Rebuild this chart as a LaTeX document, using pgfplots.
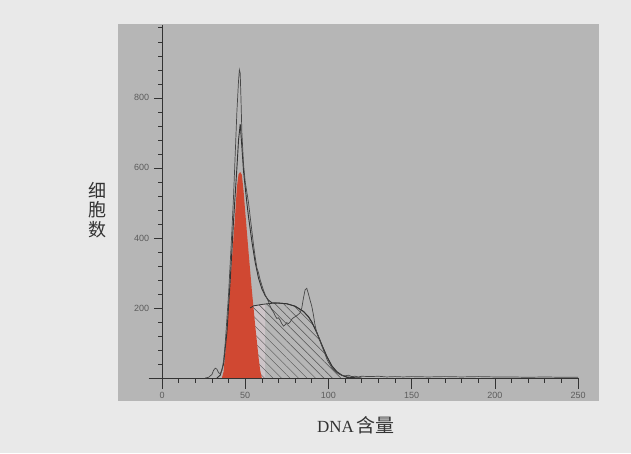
\documentclass[border=0pt]{standalone}
\usepackage{pgfplots}
\pgfplotsset{compat=1.18}
\usepackage{fontspec}
\setmainfont{Liberation Serif}
\setsansfont{Liberation Sans}
\newfontfamily\cjk{Noto Sans CJK SC}
\usetikzlibrary{patterns.meta}
\definecolor{outerbg}{HTML}{E9E9E9}
\definecolor{panel}{HTML}{B6B6B6}
\definecolor{gred}{RGB}{208,72,50}
\definecolor{ink}{HTML}{333333}
\definecolor{strip}{HTML}{CDC4C8}
\begin{document}
\begin{tikzpicture}[x=1pt,y=1pt]
\fill[outerbg] (0,0) rectangle (631,453);
\fill[panel] (118,52) rectangle (599,429);
\begin{axis}[
  at={(148.7pt,68pt)}, anchor=south west,
  scale only axis, width=429.3pt, height=360pt,
  xmin=-8, xmax=250, ymin=-20, ymax=1008,
  axis lines=middle,
  axis line style={-, draw=ink, line width=0.7pt},
  tick align=outside,
  xtick={0,50,...,250}, minor xtick={10,20,...,240},
  ytick={200,400,600,800}, minor ytick={40,80,...,1000},
  xtick style={draw=ink, line width=0.6pt, /pgfplots/major tick length=11pt, /pgfplots/minor tick length=5pt},
  ytick style={draw=ink, line width=0.6pt, /pgfplots/major tick length=8pt, /pgfplots/minor tick length=4pt},
  hide obscured x ticks=false,
  /pgf/number format/assume math mode=true,
  ticklabel style={font=\sffamily\fontsize{9}{10}\selectfont, text=ink!80},
  xticklabel style={yshift=-6pt},
  yticklabel style={xshift=-5pt},
  clip=false,
]
% light strip next to G1 peak
\addplot[draw=none, fill=strip] coordinates {(52,0)(52,200)(56,206)(60,209)(62,210)(62,0)} \closedcycle;
% S phase hatched
\addplot[draw=none, pattern={Lines[angle=-45,distance=6pt,line width=0.45pt]}, pattern color=ink!85]
 coordinates {(53,0)(53,200)(55,206)(60,210)(65,213)(70,214)(75,212)(80,205)(85,190)(88,175)(90,160)(93,130)(96,95)(99,62)(102,35)(105,18)(108,8)(111,2)(113,0)} \closedcycle;
% G1 peak
\addplot[draw=none, fill=gred] coordinates {(36,0)(37,18)(38,70)(40,200)(42,335)(44,470)(45,545)(46,582)(47,588)(48,580)(49,535)(50,475)(52,360)(54,250)(56,150)(58,60)(59,22)(60,0)} \closedcycle;
% S phase fitted curve
\addplot[ink, line width=0.8pt] coordinates {(53,200)(55,206)(60,210)(65,213)(70,214)(75,212)(80,205)(85,190)(88,175)(90,160)(93,130)(96,95)(99,62)(102,35)(105,18)(108,8)(111,2)(113,0)};
% total fit
\addplot[ink, line width=0.9pt] coordinates {(33,0)(35,8)(37,40)(39,130)(41,280)(43,450)(45,600)(46,680)(47,725)(48,660)(49,590)(50,545)(51,500)(52,460)(54,390)(56,330)(58,285)(60,255)(62,235)(64,222)(66,215)(70,214)(75,212)(80,205)(85,190)(88,175)(90,160)(93,130)(96,95)(99,62)(102,35)(105,18)(108,8)(111,3)(115,1)(120,0)};
% raw data
\addplot[ink!90, line width=0.7pt] coordinates {(26,0)(28,2)(30,10)(31,22)(32,28)(33,25)(34,15)(35,12)(36,22)(37,50)(38,100)(40,240)(42,420)(43,520)(44,640)(45,760)(46,850)(46.5,880)(47,870)(47.5,790)(48,700)(49,610)(50,560)(51,530)(52,500)(53,460)(54,420)(55,380)(56,345)(57,315)(58,300)(59,280)(60,265)(61,250)(62,238)(63,228)(64,218)(65,205)(66,195)(67,188)(68,178)(69,170)(70,172)(71,165)(72,155)(73,148)(74,152)(75,158)(76,155)(77,160)(78,168)(79,172)(80,175)(81,178)(82,182)(83,186)(84,200)(85,228)(86,252)(87,256)(88,240)(89,222)(90,205)(91,180)(92,150)(93,130)(94,118)(95,105)(96,92)(97,80)(98,68)(99,55)(100,45)(101,38)(102,30)(103,24)(104,20)(105,16)(106,12)(108,8)(110,6)(112,8)(114,4)(116,5)(118,3)(120,5)(125,4)(130,5)(135,3)(140,4)(145,3)(150,4)(160,3)(170,4)(180,3)(190,4)(200,3)(210,3)(220,2)(230,3)(240,2)(250,2)};
\end{axis}
\node[font=\cjk\fontsize{18}{19.5}\selectfont, text=ink, align=center] at (97,243) {细\\胞\\数};
\node[text=ink] at (356,28) {\fontsize{17}{17}\selectfont DNA\,{\cjk\fontsize{19}{19}\selectfont 含量}};
\end{tikzpicture}
\end{document}
